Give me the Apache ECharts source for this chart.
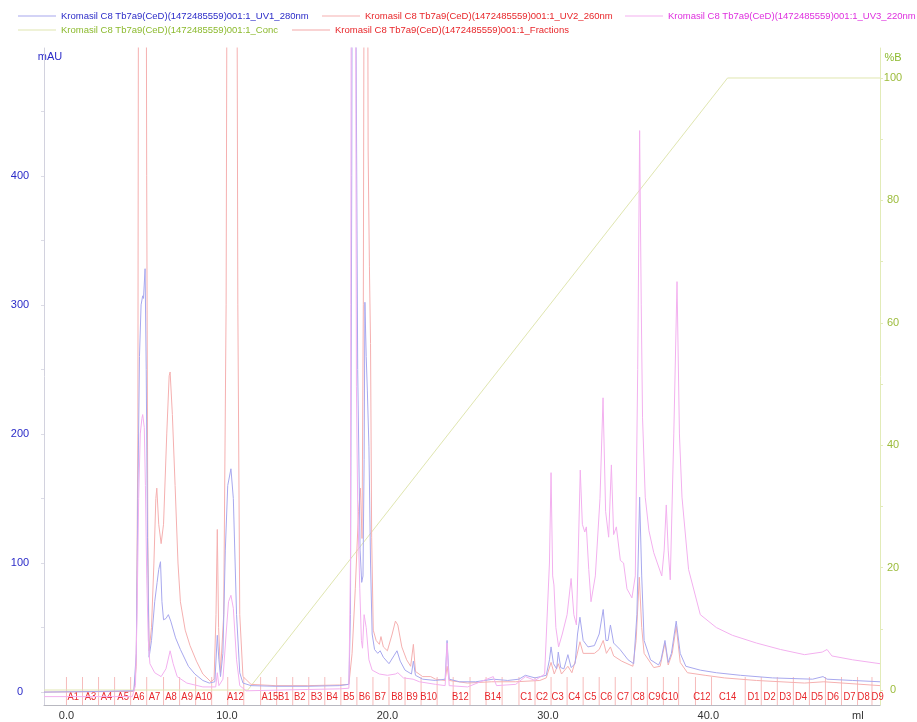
<!DOCTYPE html>
<html>
<head>
<meta charset="utf-8">
<script src="https://cdn.jsdelivr.net/npm/echarts@6/dist/echarts.min.js"></script>
<style>
  html, body { margin: 0; padding: 0; background: #fff; }
  #chart { width: 917px; height: 722px; }
</style>
</head>
<body>
<div id="chart"></div>
<script>
// series names
var nameUV1 = 'Kromasil C8 Tb7a9(CeD)(1472485559)001:1_UV1_280nm';
var nameUV2 = 'Kromasil C8 Tb7a9(CeD)(1472485559)001:1_UV2_260nm';
var nameUV3 = 'Kromasil C8 Tb7a9(CeD)(1472485559)001:1_UV3_220nm';
var nameConc = 'Kromasil C8 Tb7a9(CeD)(1472485559)001:1_Conc';
var nameFrac = 'Kromasil C8 Tb7a9(CeD)(1472485559)001:1_Fractions';

// [ml, mAU]
var uv1 = [[-1.4, 0], [2, 0.5], [4.2, 1], [4.35, 30], [4.45, 150], [4.55, 260], [4.65, 300], [4.75, 307], [4.8, 305], [4.9, 328], [4.97, 250], [5.05, 120], [5.15, 27], [5.3, 40], [5.5, 70], [5.65, 85], [5.75, 95], [5.86, 101], [5.95, 70], [6.05, 56], [6.2, 57], [6.35, 60], [6.5, 55], [6.8, 42], [7.1, 33], [7.6, 20], [8.0, 14], [8.5, 9], [8.9, 7], [9.25, 8], [9.4, 44], [9.5, 25], [9.6, 12], [9.75, 30], [9.9, 110], [10.05, 160], [10.25, 173], [10.4, 150], [10.6, 60], [10.8, 15], [11.0, 7], [11.5, 5], [13, 4.5], [15, 4.5], [17, 5], [17.6, 6], [17.7, 60], [17.78, 400], [17.82, 700], [18.0, 700], [18.05, 500], [18.15, 250], [18.3, 110], [18.4, 85], [18.48, 90], [18.55, 180], [18.6, 302], [18.68, 260], [18.75, 234], [18.85, 190], [18.95, 100], [19.05, 45], [19.2, 33], [19.4, 30], [19.55, 32], [19.75, 27], [20.1, 22], [20.4, 28], [20.6, 32], [20.8, 24], [21.1, 17], [21.5, 14], [21.62, 24], [21.75, 13], [22.2, 10], [23, 9], [23.6, 10], [23.72, 40], [23.85, 10], [24.5, 8], [25.5, 8], [26.6, 10], [27.5, 9], [28.2, 10], [28.6, 13], [29.2, 11], [29.9, 13], [30.1, 25], [30.2, 35], [30.35, 22], [30.55, 18], [30.65, 31], [30.8, 19], [31.0, 18], [31.25, 29], [31.45, 19], [31.7, 22], [31.85, 45], [32.0, 58], [32.2, 40], [32.5, 35], [32.9, 36], [33.2, 45], [33.45, 64], [33.62, 40], [33.75, 40], [33.9, 52], [34.1, 38], [34.5, 33], [35.0, 25], [35.35, 22], [35.55, 60], [35.72, 151], [35.85, 90], [36.0, 40], [36.4, 25], [36.9, 21], [37.05, 25], [37.3, 40], [37.5, 23], [37.7, 30], [38.0, 55], [38.25, 30], [38.6, 20], [39.5, 17], [40.5, 15], [42, 13], [44, 11], [46.5, 10], [47.15, 12], [47.4, 10], [49, 9], [50.7, 8]];

var uv2 = [[-1.4, 0], [4.2, 0.5], [4.35, 20], [4.45, 200], [4.5, 700], [4.95, 700], [5.0, 400], [5.07, 120], [5.15, 32], [5.3, 50], [5.45, 100], [5.57, 150], [5.63, 158], [5.75, 130], [5.9, 115], [6.05, 130], [6.25, 200], [6.4, 245], [6.46, 248], [6.6, 215], [6.77, 160], [6.95, 100], [7.1, 70], [7.4, 48], [7.7, 36], [8.1, 24], [8.5, 14], [9.0, 8], [9.2, 10], [9.32, 60], [9.4, 126], [9.48, 50], [9.6, 15], [9.8, 60], [9.95, 300], [10.03, 700], [10.6, 700], [10.68, 300], [10.8, 60], [11.0, 12], [11.5, 6], [13, 5], [15, 5], [17, 5.5], [17.6, 6], [17.8, 30], [18.0, 80], [18.2, 140], [18.32, 158], [18.42, 119], [18.5, 300], [18.57, 700], [18.75, 700], [18.8, 420], [18.88, 330], [18.95, 270], [19.02, 120], [19.12, 48], [19.3, 40], [19.5, 37], [19.6, 43], [19.75, 35], [20.0, 32], [20.3, 45], [20.5, 55], [20.65, 52], [20.9, 35], [21.2, 25], [21.45, 20], [21.62, 37], [21.75, 16], [22.2, 12], [22.7, 12], [23.0, 10], [23.6, 9], [23.72, 20], [23.85, 9], [25, 7], [26.5, 8], [28, 8], [29.5, 9], [29.9, 11], [30.2, 23], [30.4, 14], [30.65, 22], [30.85, 14], [31.25, 20], [31.5, 15], [31.8, 28], [32.0, 39], [32.2, 30], [32.9, 30], [33.2, 33], [33.45, 40], [33.65, 30], [33.9, 35], [34.1, 28], [34.6, 24], [35.3, 20], [35.5, 40], [35.7, 89], [35.85, 50], [36.0, 30], [36.6, 19], [37.0, 20], [37.3, 38], [37.5, 21], [37.75, 30], [38.0, 51], [38.25, 23], [38.7, 15], [39.8, 13], [41, 11], [43, 9], [46, 7], [47.2, 8], [50.7, 5]];

var uv3 = [[-1.4, -3.5], [4.1, -3.5], [4.3, 5], [4.4, 60], [4.5, 150], [4.6, 200], [4.7, 212], [4.75, 215], [4.85, 205], [4.92, 160], [5.0, 90], [5.1, 40], [5.2, 22], [5.5, 15], [5.9, 12], [6.2, 18], [6.46, 32], [6.65, 22], [6.9, 12], [7.5, 7], [8.5, 4], [9.3, 4], [9.4, 15], [9.5, 5], [9.75, 10], [9.95, 45], [10.1, 70], [10.25, 75], [10.4, 65], [10.6, 25], [10.8, 5], [11.2, 1], [13, 1.5], [15, 2], [17, 2.5], [17.6, 3], [17.7, 100], [17.76, 700], [18.0, 700], [18.07, 237], [18.15, 145], [18.28, 80], [18.38, 40], [18.45, 34], [18.55, 60], [18.68, 50], [18.85, 25], [19.05, 17], [19.5, 14], [20.0, 13], [20.5, 14], [20.65, 15], [21.0, 11], [21.6, 10], [22, 8], [23.0, 6], [23.6, 5], [23.72, 38], [23.85, 5], [25, 4], [26.6, 12], [26.8, 5], [28, 6], [28.6, 12], [29.2, 9], [29.8, 14], [30.1, 100], [30.2, 170], [30.3, 90], [30.38, 83], [30.5, 50], [30.67, 35], [30.9, 45], [31.2, 60], [31.45, 88], [31.62, 60], [31.78, 52], [31.9, 110], [32.02, 172], [32.15, 130], [32.3, 124], [32.4, 128], [32.55, 95], [32.69, 70], [32.96, 90], [33.25, 150], [33.44, 228], [33.6, 140], [33.79, 120], [33.96, 176], [34.1, 122], [34.27, 128], [34.52, 102], [34.72, 100], [34.93, 80], [35.24, 73], [35.45, 90], [35.6, 250], [35.72, 435], [35.82, 300], [35.9, 213], [36.07, 151], [36.3, 125], [36.6, 108], [37.1, 90], [37.25, 110], [37.38, 145], [37.5, 110], [37.63, 87], [37.85, 200], [38.05, 318], [38.2, 200], [38.36, 151], [38.77, 95], [39.5, 60], [40.5, 50], [41.5, 44], [43, 38], [44.5, 33], [46, 29], [47.1, 31], [47.4, 33], [47.7, 28], [49, 25], [50.7, 22]];

// [ml, %B]
var conc = [[-1.4, 0], [11.3, 0], [41.2, 100], [50.7, 100]];

// fraction marks (ml) and labels
var fracTicks = [0, 1, 2, 3, 4, 5, 6.05, 7.05, 8.05, 9.05, 10.05, 11.05, 12.1, 13.1, 14.1, 15.1, 16.1, 17.1, 18.1, 19.1, 20.1, 21.1, 22.1, 23.1, 24.1, 25.15, 26.15, 27.15, 28.2, 29.2, 30.2, 31.2, 32.2, 33.2, 34.2, 35.2, 36.2, 37.2, 38.15, 39.2, 40.2, 42.3, 43.3, 44.3, 45.3, 46.3, 47.3, 48.3, 49.3, 50.2];
var fracNames = ['A1', 'A3', 'A4', 'A5', 'A6', 'A7', 'A8', 'A9', 'A10', 'A12', 'A15', 'B1', 'B2', 'B3', 'B4', 'B5', 'B6', 'B7', 'B8', 'B9', 'B10', 'B12', 'B14', 'C1', 'C2', 'C3', 'C4', 'C5', 'C6', 'C7', 'C8', 'C9', 'C10', 'C12', 'C14', 'D1', 'D2', 'D3', 'D4', 'D5', 'D6', 'D7', 'D8', 'D9'];
var fracPos = [0.42, 1.5, 2.49, 3.53, 4.5, 5.48, 6.52, 7.52, 8.55, 10.53, 12.67, 13.54, 14.54, 15.58, 16.55, 17.59, 18.57, 19.56, 20.6, 21.54, 22.57, 24.55, 26.58, 28.66, 29.64, 30.61, 31.65, 32.65, 33.64, 34.68, 35.66, 36.64, 37.59, 39.6, 41.2, 42.82, 43.82, 44.8, 45.78, 46.77, 47.77, 48.8, 49.68, 50.55];

var xTicks = [0, 10, 20, 30, 40];
var mauTicks = [0, 100, 200, 300, 400];
var pctTicks = [0, 20, 40, 60, 80, 100];

var FONT = '"Liberation Sans", Arial, sans-serif';
var Y_MIN = -10;

var chart = echarts.init(document.getElementById('chart'));

function legendItem(name, left, top, color) {
  return {
    data: [name],
    left: left,
    top: top,
    icon: 'rect',
    itemWidth: 38,
    itemHeight: 1,
    selectedMode: false,
    padding: 0,
    textStyle: { color: color, fontSize: 9.5, fontFamily: FONT }
  };
}

var option = {
  animation: false,
  backgroundColor: '#fff',
  textStyle: { fontFamily: FONT },
  legend: [
    legendItem(nameUV1, 18, 11, '#2b2bc8'),
    legendItem(nameUV2, 322, 11, '#e8262a'),
    legendItem(nameUV3, 625, 11, '#de2ede'),
    legendItem(nameConc, 18, 25, '#8cba2e'),
    legendItem(nameFrac, 292, 25, '#e8262a')
  ],
  grid: { left: 44, right: 37, top: 48, bottom: 17, outerBoundsMode: 'none' },
  xAxis: {
    type: 'value',
    min: -1.4,
    max: 50.7,
    name: 'ml',
    nameLocation: 'end',
    nameGap: -28,
    nameTextStyle: { color: '#333', fontSize: 11, verticalAlign: 'top', padding: [5, 0, 0, 0] },
    axisLine: { onZero: false, lineStyle: { color: '#b8b8c0' } },
    axisTick: { show: false },
    axisLabel: {
      customValues: xTicks,
      color: '#333',
      fontSize: 11,
      margin: 5,
      formatter: function (v) { return v.toFixed(1); }
    },
    splitLine: { show: false }
  },
  yAxis: [
    {
      type: 'value',
      min: Y_MIN,
      max: 499,
      position: 'left',
      name: 'mAU',
      nameLocation: 'end',
      nameGap: -14,
      nameTextStyle: { color: '#2b2bc8', fontSize: 11, padding: [0, 0, 0, 12] },
      axisLine: { show: true, onZero: false, lineStyle: { color: '#d2d2de' } },
      axisTick: { show: true, customValues: [0, 50, 100, 150, 200, 250, 300, 350, 400, 450], length: 3, lineStyle: { color: '#dcdce6' } },
      axisLabel: { customValues: mauTicks, color: '#2b2bc8', fontSize: 11, align: 'center', margin: 24 },
      splitLine: { show: false }
    },
    {
      type: 'value',
      min: -2.45,
      max: 104.9,
      position: 'right',
      name: '%B',
      nameLocation: 'end',
      nameGap: -15,
      nameTextStyle: { color: '#8cba2e', fontSize: 11, padding: [0, 0, 0, 26] },
      axisLine: { show: true, onZero: false, lineStyle: { color: '#e2ebb8' } },
      axisTick: { show: true, customValues: [0, 10, 20, 30, 40, 50, 60, 70, 80, 90, 100], length: 3, lineStyle: { color: '#e2ebb8' } },
      axisLabel: { customValues: pctTicks, color: '#9cbc3c', fontSize: 11, align: 'center', margin: 13 },
      splitLine: { show: false }
    }
  ],
  series: [
    {
      name: nameConc, type: 'line', yAxisIndex: 1, data: conc,
      showSymbol: false, silent: true,
      color: '#e0e6b0',
      lineStyle: { width: 1, color: '#e0e6b0' }
    },
    {
      name: nameUV2, type: 'line', data: uv2,
      showSymbol: false, silent: true,
      color: '#f5b0b0',
      lineStyle: { width: 1, color: '#f5b0b0' }
    },
    {
      name: nameUV1, type: 'line', data: uv1,
      showSymbol: false, silent: true,
      color: '#a8a8ee',
      lineStyle: { width: 1, color: '#a8a8ee' }
    },
    {
      name: nameUV3, type: 'line', data: uv3,
      showSymbol: false, silent: true,
      color: '#f3b0ef',
      lineStyle: { width: 1, color: '#f3b0ef' }
    },
    {
      name: nameFrac, type: 'custom', silent: true,
      color: '#f3a8a8',
      data: fracTicks.map(function (t) { return [t, Y_MIN]; }),
      renderItem: function (params, api) {
        var p = api.coord([api.value(0), Y_MIN]);
        return {
          type: 'line',
          shape: { x1: p[0], y1: p[1], x2: p[0], y2: p[1] - 28 },
          style: { stroke: '#f6bcbc', lineWidth: 1 }
        };
      }
    },
    {
      name: nameFrac, type: 'custom', silent: true,
      color: '#f3a8a8',
      data: fracPos.map(function (t) { return [t, Y_MIN]; }),
      renderItem: function (params, api) {
        var p = api.coord([api.value(0), Y_MIN]);
        return {
          type: 'text',
          x: p[0],
          y: p[1] - 8,
          scaleX: 0.82,
          style: {
            text: fracNames[params.dataIndex],
            fill: '#e8262a',
            align: 'center',
            verticalAlign: 'middle',
            fontSize: 11.5,
            fontFamily: FONT
          }
        };
      }
    }
  ]
};

chart.setOption(option);
</script>
</body>
</html>
